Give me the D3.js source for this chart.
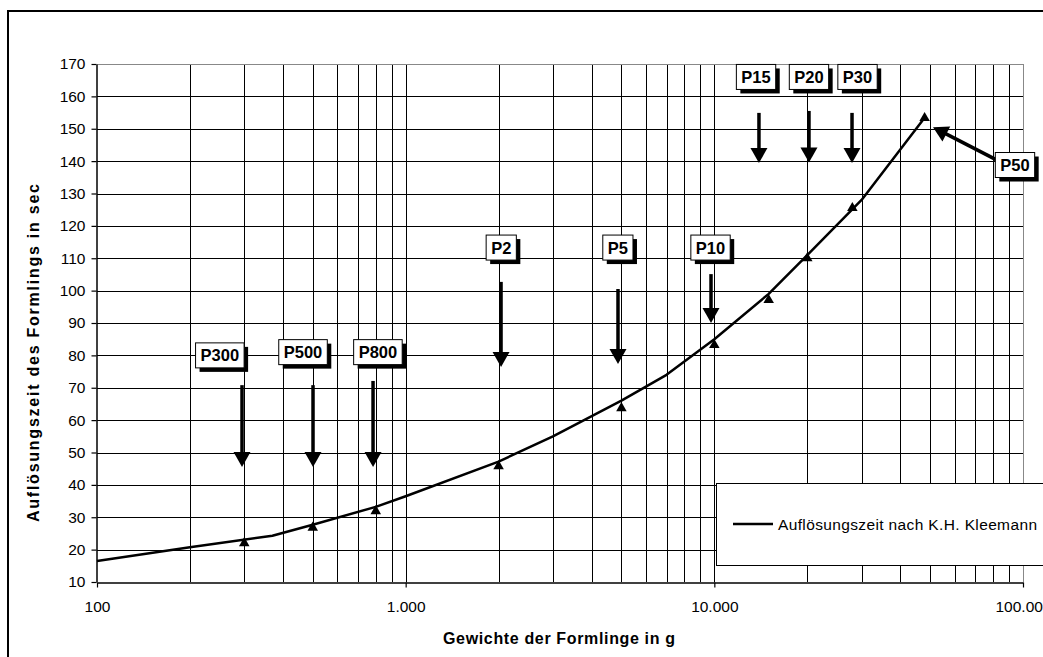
<!DOCTYPE html>
<html>
<head>
<meta charset="utf-8">
<script src="https://cdn.jsdelivr.net/npm/d3@7"></script>
<style>
  html, body { margin: 0; padding: 0; background: #fff; }
  svg { display: block; font-family: "Liberation Sans", Arial, sans-serif; }
</style>
</head>
<body>
<svg id="chart" width="1043" height="657"></svg>
<script>
// Curve: dissolution time vs. tablet weight
const curveWeights = [100, 200, 370, 500, 800, 1000, 2000, 3000, 5000, 7000, 10000, 15000, 20000, 30000, 48000];
const curveTimes   = [16.5, 20.7, 24.3, 27.7, 33.2, 36.5, 47.2, 55, 66, 74, 85, 99, 111, 128, 153.4];

// Measured press points (triangle markers)
const pointWeights = [300, 500, 800, 2000, 5000, 10000, 15000, 20000, 28000, 48000];
const pointTimes   = [22, 26.8, 31.9, 45.8, 63.7, 83.2, 97.1, 110, 125.5, 153.3];

// Press annotations: label position and arrow (tail -> tip), in data units
const pressNames  = ["P300", "P500", "P800", "P2", "P5", "P10", "P15", "P20", "P30", "P50"];
const pressLabelX = [250, 465, 813, 2040, 4870, 9720, 13650, 20260, 29100, 94200];
const pressLabelY = [80, 81, 81, 113.3, 113.3, 113.3, 166, 166, 166, 138.8];
const arrowTailX  = [295, 501, 784, 2037, 4874, 9755, 13950, 20260, 27930, 82360];
const arrowTailY  = [70.8, 70.8, 72.1, 102.7, 100.5, 105.1, 154.9, 155.5, 154.9, 140.3];
const arrowTipX   = [295, 501, 784, 2037, 4874, 9755, 13950, 20260, 27930, 51100];
const arrowTipY   = [45.5, 45.5, 45.5, 76.4, 77.3, 90, 139.4, 139.6, 139.4, 150.5];

// Axis ticks
const xMajorTicks = [100, 1000, 10000, 100000];
const yTicks = [10, 20, 30, 40, 50, 60, 70, 80, 90, 100, 110, 120, 130, 140, 150, 160, 170];

const xTitle = "Gewichte der Formlinge in g";
const yTitle = "Auflösungszeit des Formlings in sec";
const legendLabel = "Auflösungszeit nach K.H. Kleemann";

const svg = d3.select("#chart");
const plot = { left: 97, right: 1023, top: 64, bottom: 582 };

const x = d3.scaleLog().domain([100, 100000]).range([plot.left, plot.right]);
const y = d3.scaleLinear().domain([10, 170]).range([plot.bottom, plot.top]);

const de = d3.formatLocale({ decimal: ",", thousands: ".", grouping: [3], currency: ["", " €"] });
const fmt = de.format(",");

// Outer chart frame
svg.append("rect")
  .attr("x", 8).attr("y", 11).attr("width", 1200).attr("height", 1000)
  .attr("fill", "none").attr("stroke", "#000").attr("stroke-width", 2);

// Grid
const grid = svg.append("g").attr("shape-rendering", "crispEdges");
grid.selectAll("line.v")
  .data(x.ticks().filter(d => d > 100 && d < 100000))
  .join("line")
  .attr("x1", d => Math.round(x(d)) + 0.5).attr("x2", d => Math.round(x(d)) + 0.5)
  .attr("y1", plot.top).attr("y2", plot.bottom)
  .attr("stroke", "#000").attr("stroke-width", 1);
grid.selectAll("line.h")
  .data(yTicks.filter(d => d > 10 && d < 170))
  .join("line")
  .attr("x1", plot.left).attr("x2", plot.right)
  .attr("y1", d => Math.round(y(d)) + 0.5).attr("y2", d => Math.round(y(d)) + 0.5)
  .attr("stroke", "#000").attr("stroke-width", 1);
// top and right plot border
grid.append("path")
  .attr("d", `M${plot.left},${plot.top + 0.5}H${plot.right + 0.5}V${plot.bottom}`)
  .attr("fill", "none").attr("stroke", "#888").attr("stroke-width", 1.5);

// Axes
const xAxis = d3.axisBottom(x).tickValues(xMajorTicks).tickFormat(fmt)
  .tickSize(5).tickSizeOuter(0).tickPadding(13);
const yAxis = d3.axisLeft(y).tickValues(yTicks).tickFormat(d3.format("d"))
  .tickSize(5).tickSizeOuter(0).tickPadding(6);

const gx = svg.append("g").attr("transform", `translate(0,${plot.bottom + 0.5})`).call(xAxis);
const gy = svg.append("g").attr("transform", `translate(${plot.left - 0.5},0)`).call(yAxis);
[gx, gy].forEach(g => {
  g.attr("font-family", null).attr("font-size", null);
  g.selectAll("text").attr("font-size", 15.5).attr("fill", "#000");
  g.selectAll("line").attr("stroke", "#000").attr("stroke-width", 1.2);
  g.select(".domain").attr("stroke", "#000").attr("stroke-width", 1.5);
});

// Curve
const line = d3.line().x((d, i) => x(curveWeights[i])).y(d => y(d));
svg.append("path")
  .datum(curveTimes)
  .attr("d", line)
  .attr("fill", "none").attr("stroke", "#000").attr("stroke-width", 2.5)
  .attr("stroke-linejoin", "round");

// Triangle markers
svg.append("g").selectAll("path")
  .data(pointTimes)
  .join("path")
  .attr("transform", (d, i) => `translate(${x(pointWeights[i])},${y(d)})`)
  .attr("d", d3.symbol(d3.symbolTriangle, 48))
  .attr("fill", "#000");

// Arrows
const headLen = 15, headHalf = 8.5;
const arrows = svg.append("g");
pressNames.forEach((name, i) => {
  const x0 = x(arrowTailX[i]), y0 = y(arrowTailY[i]);
  const x1 = x(arrowTipX[i]), y1 = y(arrowTipY[i]);
  const dx = x1 - x0, dy = y1 - y0, len = Math.hypot(dx, dy);
  const ux = dx / len, uy = dy / len;
  const bx = x1 - ux * headLen, by = y1 - uy * headLen;
  arrows.append("line")
    .attr("x1", x0).attr("y1", y0).attr("x2", bx + ux * 2).attr("y2", by + uy * 2)
    .attr("stroke", "#000").attr("stroke-width", 3.5);
  arrows.append("path")
    .attr("d", `M${x1},${y1}L${bx - uy * headHalf},${by + ux * headHalf}L${bx + uy * headHalf},${by - ux * headHalf}Z`)
    .attr("fill", "#000");
});

// Press labels with drop shadow
const labels = svg.append("g");
pressNames.forEach((name, i) => {
  const cx = x(pressLabelX[i]), cy = y(pressLabelY[i]);
  const g = labels.append("g");
  const shadow = g.append("rect").attr("fill", "#000");
  const box = g.append("rect").attr("fill", "#fff").attr("stroke", "#000").attr("stroke-width", 1);
  const t = g.append("text")
    .attr("x", cx).attr("y", cy + 6)
    .attr("text-anchor", "middle")
    .attr("font-size", 16.5).attr("font-weight", "bold").attr("fill", "#000")
    .text(name);
  const w = t.node().getComputedTextLength() + 10, h = 25;
  shadow.attr("x", cx - w / 2 + 4).attr("y", cy - h / 2 + 4).attr("width", w).attr("height", h);
  box.attr("x", cx - w / 2).attr("y", cy - h / 2).attr("width", w).attr("height", h);
});

// Legend
const lg = svg.append("g");
lg.append("rect")
  .attr("x", 716.5).attr("y", 483.5).attr("width", 400).attr("height", 82)
  .attr("fill", "#fff").attr("stroke", "#000").attr("stroke-width", 1);
lg.append("line")
  .attr("x1", 733).attr("x2", 773).attr("y1", 524).attr("y2", 524)
  .attr("stroke", "#000").attr("stroke-width", 2.5);
lg.append("text")
  .attr("x", 778).attr("y", 530)
  .attr("font-size", 15.5).attr("fill", "#000")
  .attr("textLength", 259).attr("lengthAdjust", "spacing")
  .text(legendLabel);

// Axis titles
svg.append("text")
  .attr("x", 559).attr("y", 644)
  .attr("text-anchor", "middle")
  .attr("font-size", 16).attr("font-weight", "bold").attr("fill", "#000")
  .attr("textLength", 232).attr("lengthAdjust", "spacing")
  .text(xTitle);
svg.append("text")
  .attr("transform", "translate(39,353) rotate(-90)")
  .attr("text-anchor", "middle")
  .attr("font-size", 16).attr("font-weight", "bold").attr("fill", "#000")
  .attr("textLength", 338).attr("lengthAdjust", "spacing")
  .text(yTitle);
</script>
</body>
</html>
